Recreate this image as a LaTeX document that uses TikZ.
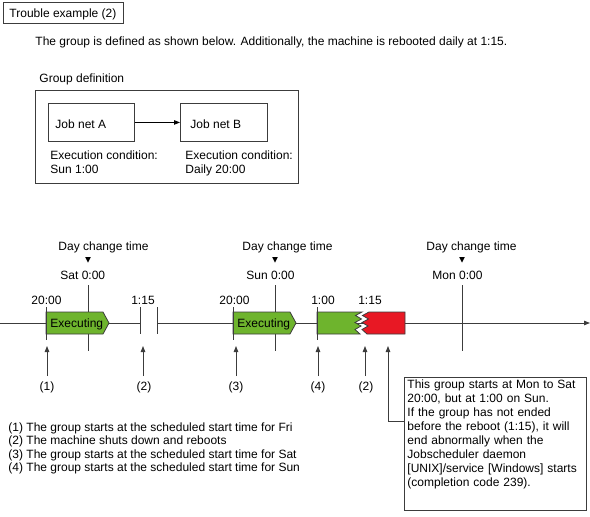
\documentclass[tikz,border=0pt]{standalone}
\usepackage{fontspec}
\setmainfont{Liberation Sans}
\usetikzlibrary{arrows.meta,calc}
\definecolor{exgreen}{RGB}{110,180,45}
\definecolor{exred}{RGB}{232,24,36}
\definecolor{edge}{RGB}{60,60,60}
\begin{document}
\begin{tikzpicture}[x=1pt,y=-1pt,
  font=\fontsize{12}{14}\selectfont,
  line width=0.9pt, draw=edge,
  txt/.style={anchor=base west, inner sep=0pt},
  ctxt/.style={anchor=base, inner sep=0pt},
  box/.style={draw=edge, anchor=north west, inner sep=0pt},
  arr/.style={-{Triangle[length=6pt,width=4.5pt]}},
  exbox/.style={draw=edge, line width=0.8pt, fill=exgreen},
  ]
\useasboundingbox (0,0) rectangle (590,517);

% ---- header ----
\node[box, minimum width=120pt, minimum height=21pt] (title) at (3,2) {};
\node[txt] (titletext) at (9,17.5) {Trouble example (2)};
\node[txt] (intro) at (35,45) {The group is defined as shown below. Additionally, the machine is rebooted daily at 1:15.};
\node[txt] (grplabel) at (39,82) {Group definition};

% ---- group definition ----
\node[box, minimum width=263pt, minimum height=93pt] (grp) at (35,90) {};
\node[box, minimum width=86pt, minimum height=38pt] (jobA) at (48,103) {};
\node[box, minimum width=87pt, minimum height=38pt] (jobB) at (180,103) {};
\node[txt] (jobAtext) at (55,128) {Job net A};
\node[txt] (jobBtext) at (190,128) {Job net B};
\draw[arr, draw=black] (jobA.east) -- (jobB.west);
\node[txt] (condA1) at (50,159) {Execution condition:};
\node[txt] (condA2) at (50,173.5) {Sun 1:00};
\node[txt] (condB1) at (185,159) {Execution condition:};
\node[txt] (condB2) at (185,173.5) {Daily 20:00};

% ---- day change markers ----
\foreach \x/\n/\tx/\dx/\lab in {88/d1/58/60/Sat 0:00, 275/d2/242/246/Sun 0:00, 462/d3/426/432/Mon 0:00}{
  \coordinate (\n-t) at (\x,285);
  \coordinate (\n-b) at (\x,351);
  \draw (\n-t) -- (\n-b);
  \fill[black] (\x-2.8,257) -- (\x+2.8,257) -- (\x,262.5) -- cycle;
  \node[txt] (\n-head) at (\tx,250) {Day change time};
  \node[txt] (\n-day) at (\dx,279) {\lab};
}

% ---- main time line ----
\coordinate (L0) at (0,323);
\coordinate (G1) at (140,323);
\coordinate (G2) at (157,323);
\coordinate (Lend) at (590,323);
\draw (L0) -- (G1);
\draw[arr] (G2) -- (Lend);
\draw (140,307) -- (140,334);
\draw (157,307) -- (157,334);

% ---- executing boxes ----
\draw[exbox] (46,312) -- (103,312) -- (109,323) -- (103,334) -- (46,334) -- cycle;
\node[txt] (exec1) at (50,327) {Executing};
\draw[exbox] (233,312) -- (290,312) -- (296,323) -- (290,334) -- (233,334) -- cycle;
\node[txt] (exec2) at (237,327) {Executing};

% green part (started at 1:00) and red part (abnormal end)
\draw[exbox] (317,312) -- (362,312) -- (355.5,315.5) -- (361.5,319) -- (355,322.5) -- (361,326) -- (355,329.5) -- (360,334) -- (317,334) -- cycle;
\draw[draw=edge, line width=0.8pt, fill=exred] (405,312) -- (369,312) -- (362.5,315.5) -- (368.5,319) -- (362,322.5) -- (368,326) -- (362,329.5) -- (367,334) -- (405,334) -- cycle;

% start ticks
\foreach \x in {46,233,317}{ \draw (\x,307) -- (\x,340); }

% time labels
\node[ctxt] (t1) at (46.5,304) {20:00};
\node[ctxt] (t2) at (143,304) {1:15};
\node[ctxt] (t3) at (234.5,304) {20:00};
\node[ctxt] (t4) at (323,304) {1:00};
\node[ctxt] (t5) at (370,304) {1:15};

% ---- event arrows ----
\foreach \x/\n in {47/a1, 143/a2, 236/a3, 318/a4, 365/a5}{
  \coordinate (\n-b) at (\x,376);
  \coordinate (\n-t) at (\x,346);
  \draw[arr] (\n-b) -- (\n-t);
}
\node[ctxt] (e1) at (47,390) {(1)};
\node[ctxt] (e2) at (144,390) {(2)};
\node[ctxt] (e3) at (236,390) {(3)};
\node[ctxt] (e4) at (318,390) {(4)};
\node[ctxt] (e5) at (366,390) {(2)};

% ---- note box ----
\node[box, minimum width=182pt, minimum height=133pt] (note) at (404,377) {};
\node[anchor=north west, inner sep=0pt, text width=178pt, align=left] (notetext) at (407,379)
 {This group starts at Mon to Sat\\
  20:00, but at 1:00 on Sun.\\
  If the group has not ended\\
  before the reboot (1:15), it will\\
  end abnormally when the\\
  Jobscheduler daemon\\
  {[}UNIX]/service [Windows] starts\\
  (completion code 239).};
\coordinate (c6) at (388,421);
\coordinate (a6-t) at (388,346);
\draw[arr] (note.west |- c6) -- (c6) -- (a6-t);

% ---- legend ----
\node[txt] (leg1) at (8,431) {(1) The group starts at the scheduled start time for Fri};
\node[txt] (leg2) at (8,444.5) {(2) The machine shuts down and reboots};
\node[txt] (leg3) at (8,458) {(3) The group starts at the scheduled start time for Sat};
\node[txt] (leg4) at (8,471.5) {(4) The group starts at the scheduled start time for Sun};
\end{tikzpicture}
\end{document}
